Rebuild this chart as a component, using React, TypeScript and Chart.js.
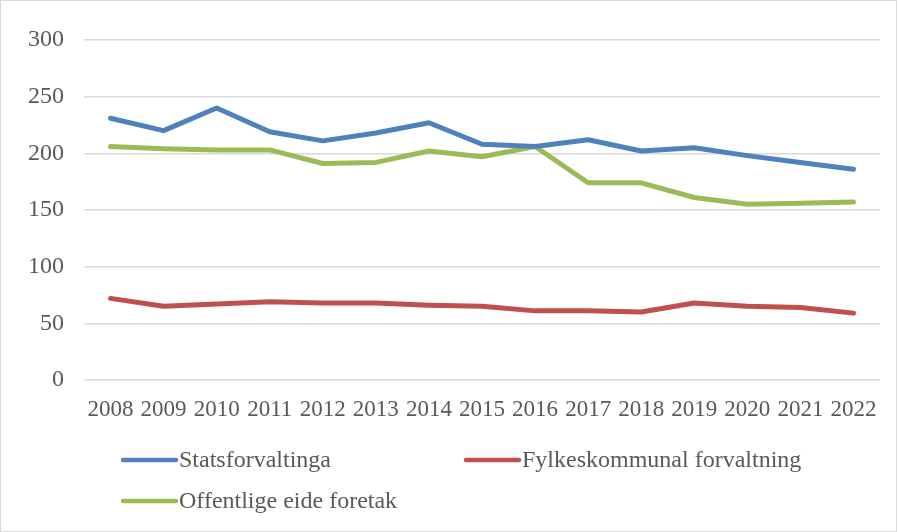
import React, { useEffect, useRef } from "react";
import { Chart, registerables } from "chart.js";

Chart.register(...registerables);

const years = ["2008","2009","2010","2011","2012","2013","2014","2015","2016","2017","2018","2019","2020","2021","2022"];
const stats = [231, 220, 240, 219, 211, 218, 227, 208, 206, 212, 202, 205, 198, 192, 186];
const fylke = [72, 65, 67, 69, 68, 68, 66, 65, 61, 61, 60, 68, 65, 64, 59];
const foretak = [206, 204, 203, 203, 191, 192, 202, 197, 206, 174, 174, 161, 155, 156, 157];
const seriesNames = ["Statsforvaltinga", "Fylkeskommunal forvaltning", "Offentlige eide foretak"];
const colors = ["#4f81bd", "#c0504d", "#9bbb59"];

const FONT = "'Liberation Serif', 'Times New Roman', serif";
const TEXT = "#595959";

const legendPlugin = {
  id: "customLegend",
  beforeDraw(chart: any) {
    const ctx = chart.ctx;
    ctx.save();
    ctx.fillStyle = "#fff";
    ctx.fillRect(0, 0, chart.width, chart.height);
    ctx.strokeStyle = "#d9d9d9";
    ctx.lineWidth = 1;
    ctx.strokeRect(0.5, 0.5, chart.width - 2, chart.height - 1);
    ctx.restore();
  },
  afterDraw(chart: any) {
    const ctx = chart.ctx;
    const pos = [
      { x: 123, y: 460 },
      { x: 466, y: 460 },
      { x: 123, y: 501 },
    ];
    ctx.save();
    chart.data.datasets.forEach((ds: any, i: number) => {
      const p = pos[i];
      ctx.strokeStyle = ds.borderColor;
      ctx.lineWidth = 4.5;
      ctx.lineCap = "round";
      ctx.beginPath();
      ctx.moveTo(p.x, p.y);
      ctx.lineTo(p.x + 53, p.y);
      ctx.stroke();
      ctx.fillStyle = TEXT;
      ctx.font = `24px ${FONT}`;
      ctx.textBaseline = "middle";
      ctx.textAlign = "left";
      ctx.fillText(ds.label, p.x + 56, p.y + 1);
    });
    ctx.restore();
  },
};

export default function App() {
  const ref = useRef<HTMLCanvasElement>(null);
  useEffect(() => {
    document.body.style.margin = "0";
    const chart = new Chart(ref.current!, {
      type: "line",
      data: {
        labels: years,
        datasets: [stats, fylke, foretak].map((d, i) => ({
          label: seriesNames[i],
          data: d,
          borderColor: colors[i],
          backgroundColor: colors[i],
          borderWidth: 5,
          pointRadius: 0,
          tension: 0,
          borderCapStyle: "round" as const,
          borderJoinStyle: "round" as const,
        })),
      },
      options: {
        animation: false,
        responsive: false,
        maintainAspectRatio: false,
        layout: { padding: { left: 0, right: 18, top: 40, bottom: 0 } },
        plugins: { legend: { display: false }, tooltip: { enabled: false } },
        scales: {
          x: {
            offset: true,
            grid: { display: false },
            border: { display: false },
            ticks: { color: TEXT, font: { family: FONT, size: 23 }, maxRotation: 0, minRotation: 0, autoSkip: false, padding: 8 },
            afterFit: (s: any) => { s.height = 152; },
          },
          y: {
            min: 0,
            max: 300,
            ticks: { stepSize: 50, color: TEXT, font: { family: FONT, size: 24 }, padding: 20 },
            grid: { color: "#d9d9d9", lineWidth: 1.5, drawTicks: false },
            border: { display: false },
            afterFit: (s: any) => { s.width = 84; },
          },
        },
      },
      plugins: [legendPlugin],
    });
    return () => chart.destroy();
  }, []);
  return (
    <div style={{ position: "absolute", left: 0, top: 0, width: 898, height: 532 }}>
      <canvas ref={ref} width={898} height={532} style={{ display: "block" }} />
    </div>
  );
}
